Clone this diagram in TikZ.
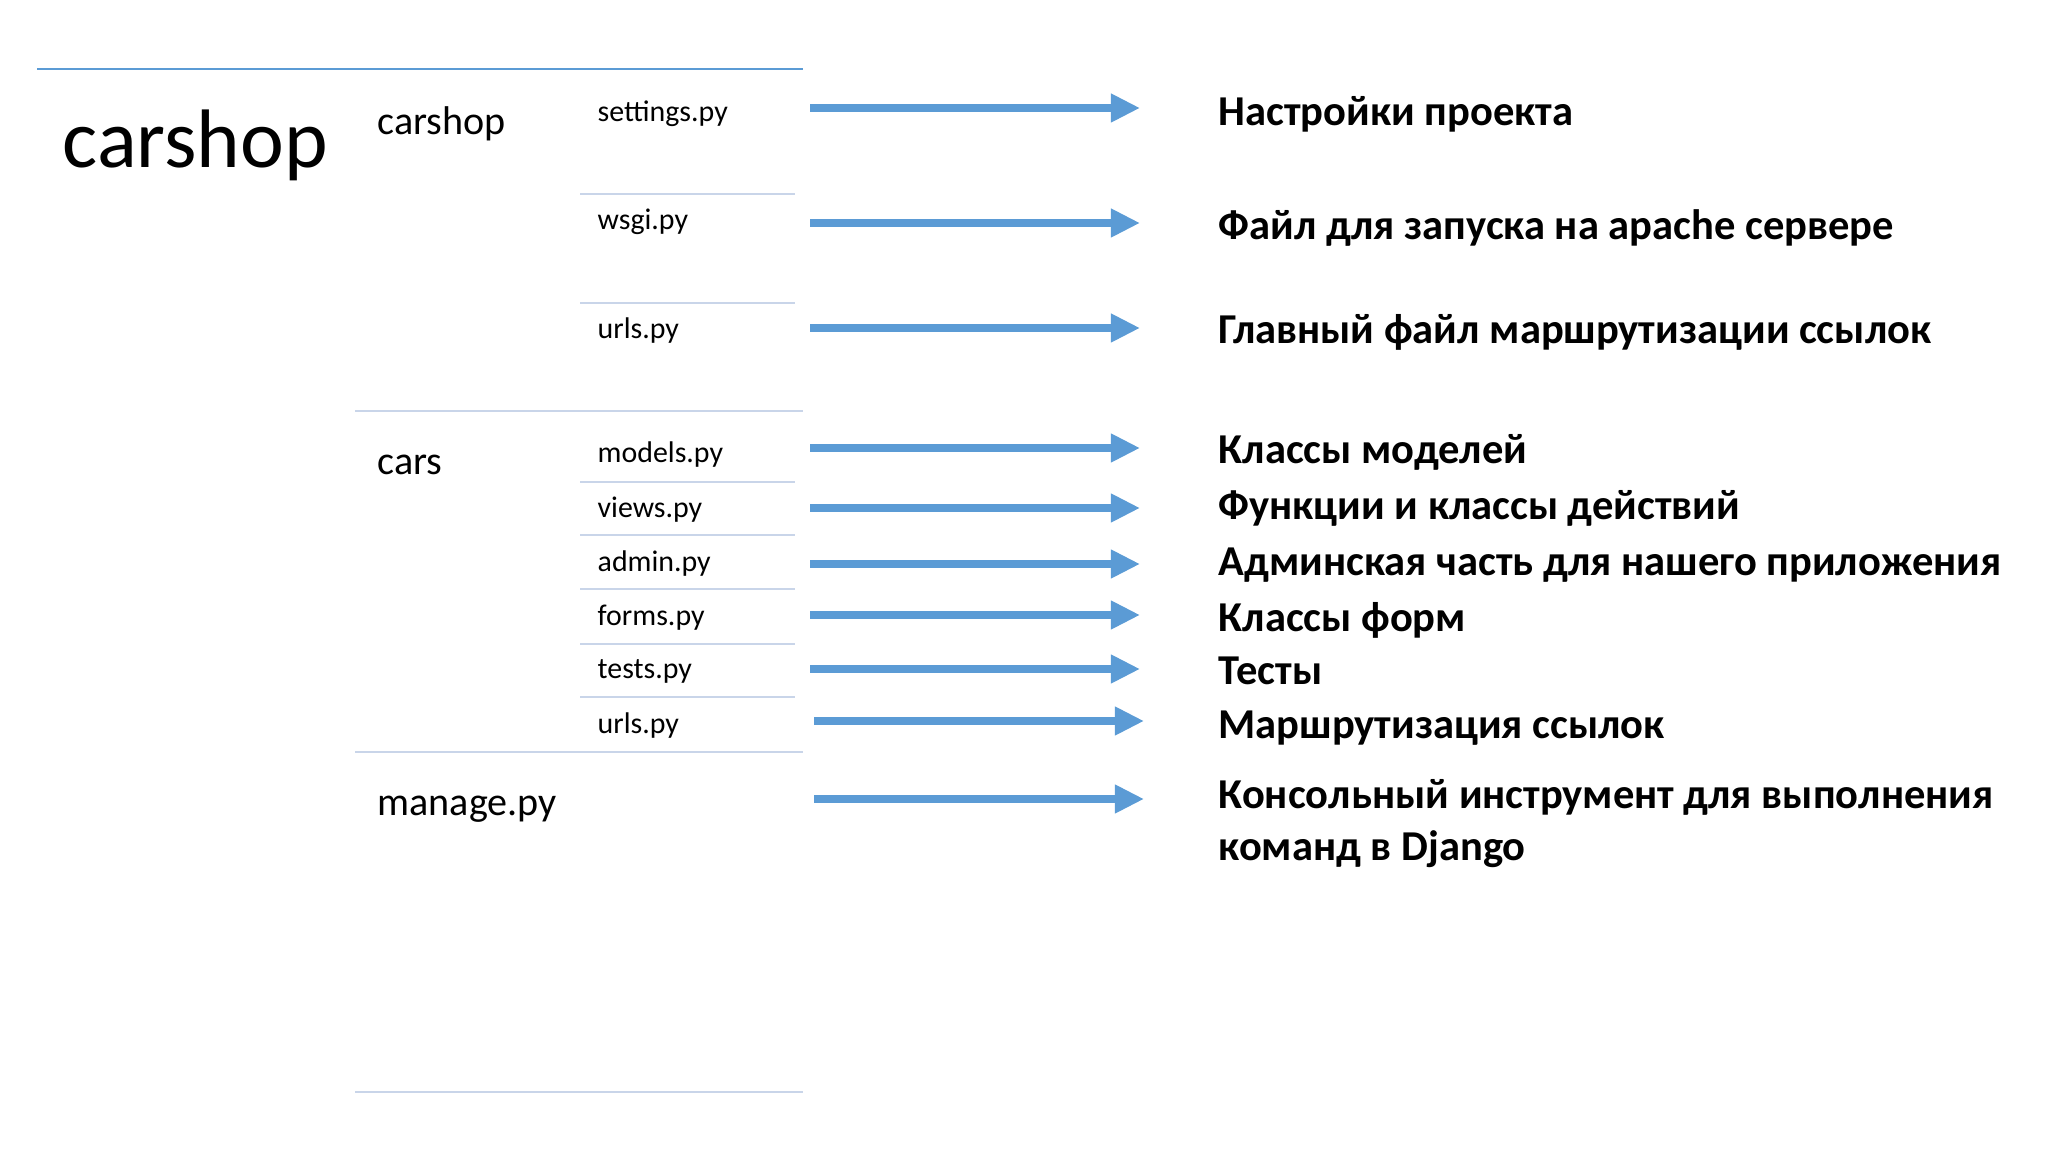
\documentclass[tikz,border=0pt]{standalone}
\usepackage{fontspec}
\setmainfont{Carlito}
\usepackage{tikz}
\usetikzlibrary{arrows.meta, positioning}

\definecolor{arrowblue}{HTML}{5B9BD5}
\definecolor{rowline}{HTML}{C9D5E9}

\tikzset{
  bigname/.style={anchor=base west, inner sep=0pt, font=\fontsize{23.6}{28}\selectfont},
  dirname/.style={anchor=base west, inner sep=0pt, font=\fontsize{11.4}{14}\selectfont},
  filename/.style={anchor=base west, inner sep=0pt, font=\fontsize{8.5}{10}\selectfont},
  note/.style={anchor=base west, inner sep=0pt, align=left, font=\fontsize{12.1}{14.6}\selectfont\bfseries},
  fileline/.style={color=rowline, line width=0.7pt},
  pointer/.style={color=arrowblue, line width=2pt, -{Triangle[length=0.29cm, width=0.27cm]}}
}

\begin{document}
\begin{tikzpicture}[x=0.01cm, y=-0.01cm]
  \useasboundingbox (0,0) rectangle (2048,1152);
  \draw[color=arrowblue, line width=0.6pt] (37,69) -- (803,69);
  \draw[fileline] (580,194) -- (795,194);
  \draw[fileline] (580,303) -- (795,303);
  \draw[fileline] (355,411) -- (803,411);
  \draw[fileline] (580,482) -- (795,482);
  \draw[fileline] (580,535) -- (795,535);
  \draw[fileline] (580,589) -- (795,589);
  \draw[fileline] (580,644) -- (795,644);
  \draw[fileline] (580,697) -- (795,697);
  \draw[fileline] (355,752) -- (803,752);
  \draw[fileline] (355,1092) -- (803,1092);

  % tree of the project
  \node[bigname] (project) at (62,168) {carshop};
  \node[dirname] (confdir) at (377,135) {carshop};
  \node[dirname] (appdir) at (377,475) {cars};
  \node[dirname] (manage) at (377,815) {manage.py};
  \node[filename] (settings) at (597,122) {settings.py};
  \node[filename] (wsgi) at (597,230) {wsgi.py};
  \node[filename] (confurls) at (597,339) {urls.py};
  \node[filename] (models) at (597,463) {models.py};
  \node[filename] (views) at (597,518) {views.py};
  \node[filename] (admin) at (597,571) {admin.py};
  \node[filename] (forms) at (597,625) {forms.py};
  \node[filename] (tests) at (597,679) {tests.py};
  \node[filename] (appurls) at (597,733) {urls.py};

  % what each file is for
  \node[note] (n1) at (1218,126) {Настройки проекта};
  \node[note] (n2) at (1218,240) {Файл для запуска на apache сервере};
  \node[note] (n3) at (1218,344) {Главный файл маршрутизации ссылок};
  \node[note] (n4) at (1218,464) {Классы моделей};
  \node[note] (n5) at (1218,520) {Функции и классы действий};
  \node[note] (n6) at (1218,575) {Админская часть для нашего приложения};
  \node[note] (n7) at (1218,631) {Классы форм};
  \node[note] (n8) at (1218,684) {Тесты};
  \node[note] (n9) at (1218,738) {Маршрутизация ссылок};
  \node[note, anchor=north west] (n10) at (1218,779) {Консольный инструмент для выполнения\\команд в Django};

  \coordinate (a1) at (810,108);  \coordinate (b1) at (1140,108);
  \coordinate (a2) at (810,223);  \coordinate (b2) at (1140,223);
  \coordinate (a3) at (810,328);  \coordinate (b3) at (1140,328);
  \coordinate (a4) at (810,448);  \coordinate (b4) at (1140,448);
  \coordinate (a5) at (810,508);  \coordinate (b5) at (1140,508);
  \coordinate (a6) at (810,564);  \coordinate (b6) at (1140,564);
  \coordinate (a7) at (810,615);  \coordinate (b7) at (1140,615);
  \coordinate (a8) at (810,669);  \coordinate (b8) at (1140,669);
  \coordinate (a9) at (814,721);  \coordinate (b9) at (1144,721);
  \coordinate (a10) at (814,799); \coordinate (b10) at (1144,799);
  \draw[pointer] (a1) -- (b1);
  \draw[pointer] (a2) -- (b2);
  \draw[pointer] (a3) -- (b3);
  \draw[pointer] (a4) -- (b4);
  \draw[pointer] (a5) -- (b5);
  \draw[pointer] (a6) -- (b6);
  \draw[pointer] (a7) -- (b7);
  \draw[pointer] (a8) -- (b8);
  \draw[pointer] (a9) -- (b9);
  \draw[pointer] (a10) -- (b10);
\end{tikzpicture}
\end{document}
